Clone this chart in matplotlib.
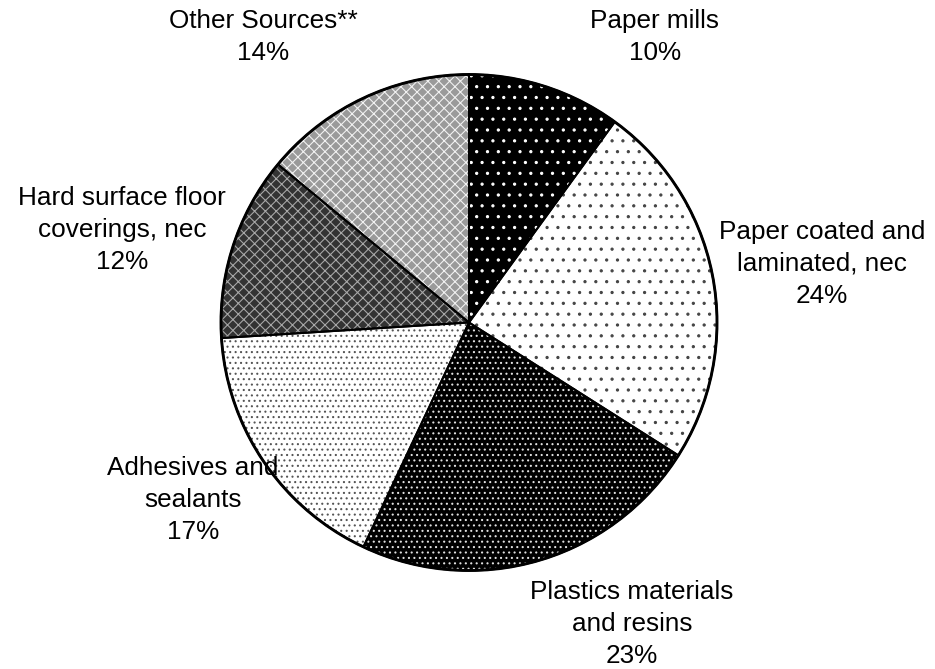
import matplotlib
matplotlib.use('Agg')
import matplotlib.pyplot as plt

# shares of total, clockwise from 12 o'clock
labels = ['Paper mills', 'Paper coated and\nlaminated, nec', 'Plastics materials\nand resins',
          'Adhesives and\nsealants', 'Hard surface floor\ncoverings, nec', 'Other Sources**']
shares = [10, 24, 23, 17, 12, 14]

# fill, hatch colour, hatch pattern
faces = ['black', 'white', 'black', 'white', '#333333', '#9a9a9a']
hcols = ['white', '#444444', '#e0e0e0', '#555555', '#a8a8a8', '#f2f2f2']
hatches = ['..', '..', '....', '....', 'xxxx', 'xxxx']

# label centres in pixel coords of the 935x669 image
lab_px = [(655, 37), (822, 264), (632, 624), (193, 500), (122, 230), (263, 37)]

DPI = 130
W, H = 935, 669
CX, CY, R = 469, 322.5, 248.0

plt.rcParams['font.family'] = ['Liberation Sans', 'DejaVu Sans']
plt.rcParams['hatch.linewidth'] = 0.6
fig = plt.figure(figsize=(W / DPI, H / DPI), dpi=DPI)
ax = fig.add_axes([0, 0, 1, 1])
ax.set_aspect('equal')
ax.axis('off')

wedges, _ = ax.pie(shares, startangle=90, counterclock=False, radius=1)
for w, fc, hc, h in zip(wedges, faces, hcols, hatches):
    w.set_facecolor(fc)
    w.set_edgecolor(hc)  # sets hatch colour
    w.set_hatch(h)
    w.set_linewidth(0)

# outlines
ax.pie(shares, startangle=90, counterclock=False, radius=1,
       wedgeprops=dict(fill=False, edgecolor='black', linewidth=1.1))
ax.add_patch(plt.Circle((0, 0), 1, fill=False, edgecolor='black', linewidth=1.6))
ax.set_xlim(-CX / R, (W - CX) / R)
ax.set_ylim(-(H - CY) / R, CY / R)

for lab, s, (px, py) in zip(labels, shares, lab_px):
    ax.text((px - CX) / R, (CY - py) / R, f'{lab}\n{s}%', ha='center', va='center',
            multialignment='center', fontsize=14.5, linespacing=1.42)

fig.savefig('out.png', dpi=DPI)
